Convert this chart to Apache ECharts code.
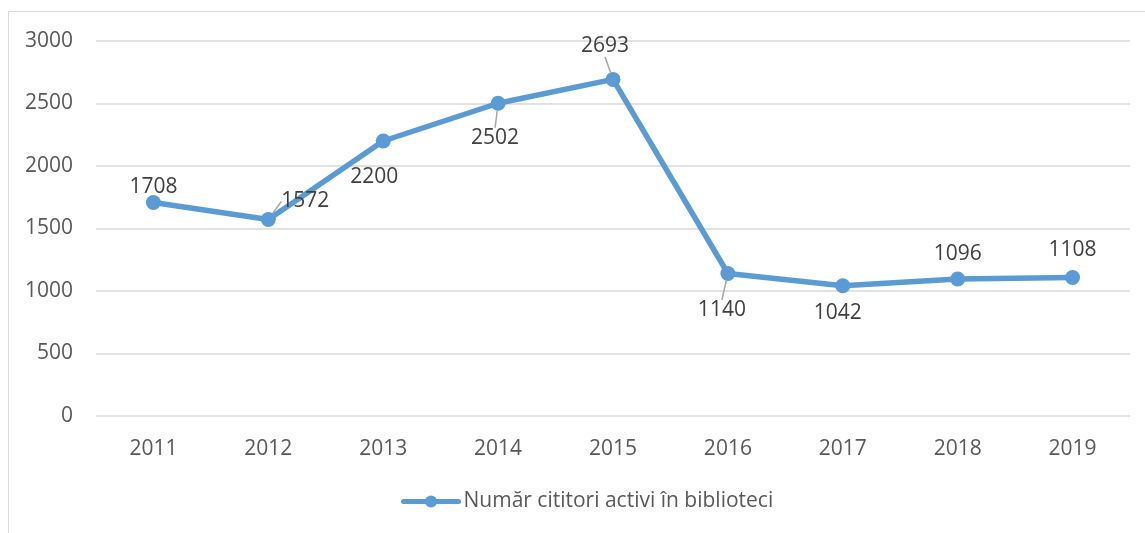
<!DOCTYPE html>
<html>
<head>
<meta charset="utf-8">
<script src="https://cdn.jsdelivr.net/npm/echarts@6/dist/echarts.min.js"></script>
<style>
  html, body { margin: 0; padding: 0; background: #fff; }
  #chart { width: 1145px; height: 533px; }
</style>
</head>
<body>
<div id="chart"></div>
<script>
const years = ['2011', '2012', '2013', '2014', '2015', '2016', '2017', '2018', '2019'];
const readers = [1708, 1572, 2200, 2502, 2693, 1140, 1042, 1096, 1108];
const seriesName = 'Număr cititori activi în biblioteci';

const myChart = echarts.init(document.getElementById('chart'));

// where each value label sits around its point
const labelPlace = ['top', 'top', 'bottom', 'bottom', 'top', 'bottom', 'bottom', 'top', 'top'];
const labelShift = [[0, 11], [37, 8], [-9, 10], [-3, 9], [-8, -7], [-6, 11], [-5, 1], [0, 1], [0, -1]];
const showLeader = [false, true, false, true, true, true, false, false, false];

const option = {
  animation: false,
  textStyle: { fontFamily: 'Open Sans' },
  graphic: [{
    type: 'rect',
    shape: { x: 8.5, y: 11.5, width: 1300, height: 700 },
    style: { fill: 'none', stroke: '#d9d9d9', lineWidth: 1 },
    silent: true
  }],
  grid: { left: 96, right: 15, top: 41, bottom: 117 },
  legend: {
    bottom: 16,
    left: 396,
    itemWidth: 55,
    itemHeight: 15,
    itemGap: 8,
    lineStyle: { width: 5, cap: 'round' },
    textStyle: { fontSize: 21, color: '#595959', fontFamily: 'Open Sans' },
    data: [seriesName]
  },
  xAxis: {
    type: 'category',
    data: years,
    boundaryGap: true,
    axisLine: { show: false },
    axisTick: { show: false },
    axisLabel: { fontSize: 21, color: '#595959', margin: 23 }
  },
  yAxis: {
    type: 'value',
    min: 0,
    max: 3000,
    interval: 500,
    axisLabel: { fontSize: 21, color: '#595959', margin: 23, formatter: v => String(v) },
    splitLine: { lineStyle: { color: '#d9d9d9', width: 1.5 } }
  },
  series: [{
    name: seriesName,
    type: 'line',
    data: readers.map((v, i) => ({
      value: v,
      label: { position: labelPlace[i] },
      labelLine: { show: showLeader[i] }
    })),
    symbol: 'circle',
    symbolSize: 15,
    itemStyle: { color: '#5b9bd5' },
    lineStyle: { color: '#5b9bd5', width: 5.5 },
    label: {
      show: true,
      fontSize: 21,
      color: '#404040',
      distance: 8
    },
    labelLine: { show: true, lineStyle: { color: '#a6a6a6', width: 1.5 } },
    labelLayout: function (params) {
      const s = labelShift[params.dataIndex];
      return { dx: s[0], dy: s[1] };
    }
  }]
};

myChart.setOption(option);
</script>
</body>
</html>
